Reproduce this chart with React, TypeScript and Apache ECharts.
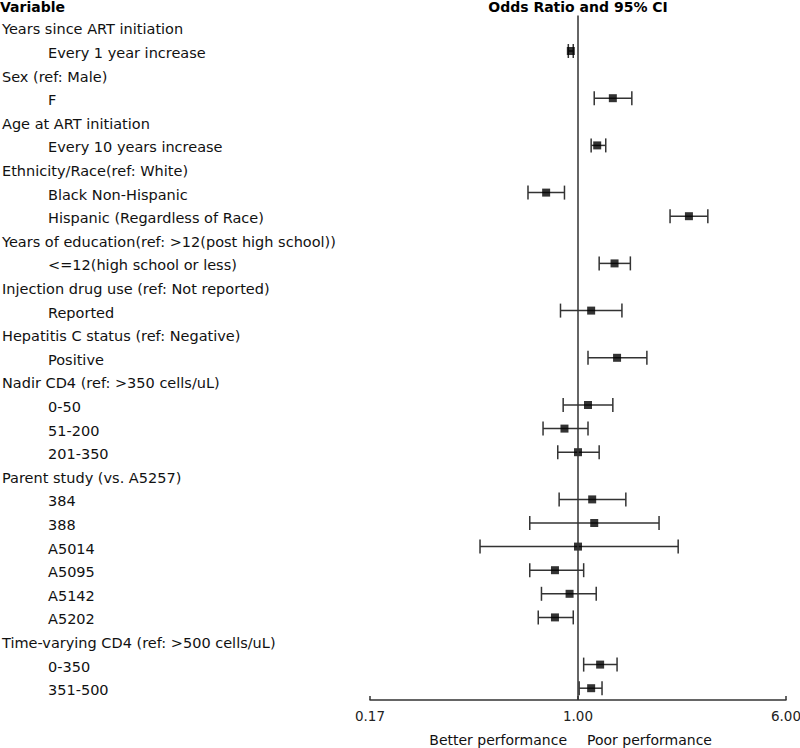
import React, { useEffect, useRef } from "react";
import * as echarts from "echarts";

const rowLabels: string[] = [
  "Years since ART initiation",
  "Every 1 year increase",
  "Sex (ref: Male)",
  "F",
  "Age at ART initiation",
  "Every 10 years increase",
  "Ethnicity/Race(ref: White)",
  "Black Non-Hispanic",
  "Hispanic (Regardless of Race)",
  "Years of education(ref: >12(post high school))",
  "<=12(high school or less)",
  "Injection drug use (ref: Not reported)",
  "Reported",
  "Hepatitis C status (ref: Negative)",
  "Positive",
  "Nadir CD4 (ref: >350 cells/uL)",
  "0-50",
  "51-200",
  "201-350",
  "Parent study (vs. A5257)",
  "384",
  "388",
  "A5014",
  "A5095",
  "A5142",
  "A5202",
  "Time-varying CD4 (ref: >500 cells/uL)",
  "0-350",
  "351-500",
];

// null = group header row (no estimate)
const oddsRatio: (number | null)[] = [
  null, 0.94, null, 1.35, null, 1.18, null, 0.76, 2.6, null, 1.37, null, 1.12, null, 1.4,
  null, 1.09, 0.89, 1.0, null, 1.13, 1.15, 1.0, 0.82, 0.93, 0.82, null, 1.21, 1.12,
];
const lowerCI: (number | null)[] = [
  null, 0.92, null, 1.15, null, 1.12, null, 0.65, 2.21, null, 1.2, null, 0.86, null, 1.09,
  null, 0.88, 0.74, 0.84, null, 0.85, 0.66, 0.43, 0.66, 0.73, 0.71, null, 1.05, 1.01,
];
const upperCI: (number | null)[] = [
  null, 0.96, null, 1.59, null, 1.27, null, 0.89, 3.06, null, 1.57, null, 1.46, null, 1.81,
  null, 1.35, 1.09, 1.2, null, 1.51, 2.01, 2.37, 1.05, 1.17, 0.96, null, 1.4, 1.23,
];

const axisMin = 1 / 6;
const axisMax = 6;
const referenceValue = 1;
const leftLabel = "Better performance";
const rightLabel = "Poor performance";

const FONT = "DejaVu Sans";

export default function App() {
  const ref = useRef<HTMLDivElement>(null);

  useEffect(() => {
    if (!ref.current) return;
    const chart = echarts.init(ref.current, undefined, { renderer: "svg" });

    const ciData: any[] = [];
    const pointData: any[] = [];
    rowLabels.forEach((_, i) => {
      if (oddsRatio[i] != null) {
        ciData.push([oddsRatio[i], i, lowerCI[i], upperCI[i]]);
        pointData.push([oddsRatio[i], i]);
      }
    });

    const option: any = {
      animation: false,
      backgroundColor: "#fff",
      textStyle: { fontFamily: FONT },
      grid: {
        left: 370,
        right: 14,
        top: 15.6,
        bottom: 48,
        containLabel: false,
        outerBoundsMode: "none",
      },
      xAxis: {
        type: "log",
        logBase: 6,
        min: axisMin,
        max: axisMax,
        splitNumber: 2,
        axisLine: { show: true, lineStyle: { color: "#333", width: 1.5 } },
        axisTick: { show: true, inside: true, length: 4, lineStyle: { color: "#333", width: 1.5 } },
        splitLine: { show: false },
        minorTick: { show: false },
        axisLabel: {
          fontFamily: FONT,
          fontSize: 13.5,
          color: "#222",
          margin: 9,
          formatter: (v: number) => v.toFixed(2),
        },
      },
      yAxis: {
        type: "category",
        data: rowLabels,
        inverse: true,
        axisLine: { show: false },
        axisTick: { show: false },
        splitLine: { show: false },
        axisLabel: {
          interval: 0,
          align: "left",
          margin: 368,
          formatter: (v: string, idx: number) =>
            oddsRatio[idx] == null ? `{g|${v}}` : `{s|${v}}`,
          rich: {
            g: { fontFamily: FONT, fontSize: 14.5, color: "#111", padding: [4, 0, 0, 0] },
            s: { fontFamily: FONT, fontSize: 14.5, color: "#111", padding: [4, 0, 0, 46] },
          },
        },
      },
      series: [
        {
          type: "custom",
          data: ciData,
          renderItem: (params: any, api: any) => {
            const row = api.value(1);
            const lo = api.coord([api.value(2), row]);
            const hi = api.coord([api.value(3), row]);
            const cap = 7;
            const style = { stroke: "#333", lineWidth: 1.5, fill: "none" };
            return {
              type: "group",
              children: [
                { type: "line", shape: { x1: lo[0], y1: lo[1], x2: hi[0], y2: hi[1] }, style },
                { type: "line", shape: { x1: lo[0], y1: lo[1] - cap, x2: lo[0], y2: lo[1] + cap }, style },
                { type: "line", shape: { x1: hi[0], y1: hi[1] - cap, x2: hi[0], y2: hi[1] + cap }, style },
              ],
            };
          },
          z: 2,
        },
        {
          type: "scatter",
          data: pointData,
          symbol: "rect",
          symbolSize: 8,
          itemStyle: { color: "#000" },
          z: 3,
          markLine: {
            silent: true,
            symbol: "none",
            label: { show: false },
            lineStyle: { color: "#333", width: 1.5, type: "solid" },
            data: [{ xAxis: referenceValue }],
          },
        },
      ],
      graphic: [
        {
          type: "text",
          left: 0,
          top: 0,
          style: { text: "Variable", font: `bold 14px "${FONT}"`, fill: "#000" },
        },
        {
          type: "text",
          x: 578,
          y: 7,
          style: {
            text: "Odds Ratio and 95% CI",
            font: `bold 14px "${FONT}"`,
            fill: "#000",
            align: "center",
            verticalAlign: "middle",
          },
        },
        {
          type: "text",
          x: 567,
          y: 740,
          style: {
            text: leftLabel,
            font: `14px "${FONT}"`,
            fill: "#111",
            align: "right",
            verticalAlign: "middle",
          },
        },
        {
          type: "text",
          x: 587,
          y: 740,
          style: {
            text: rightLabel,
            font: `14px "${FONT}"`,
            fill: "#111",
            align: "left",
            verticalAlign: "middle",
          },
        },
      ],
    };

    chart.setOption(option);
    return () => chart.dispose();
  }, []);

  return <div ref={ref} style={{ width: 800, height: 748, position: "absolute", left: 0, top: 0 }} />;
}
